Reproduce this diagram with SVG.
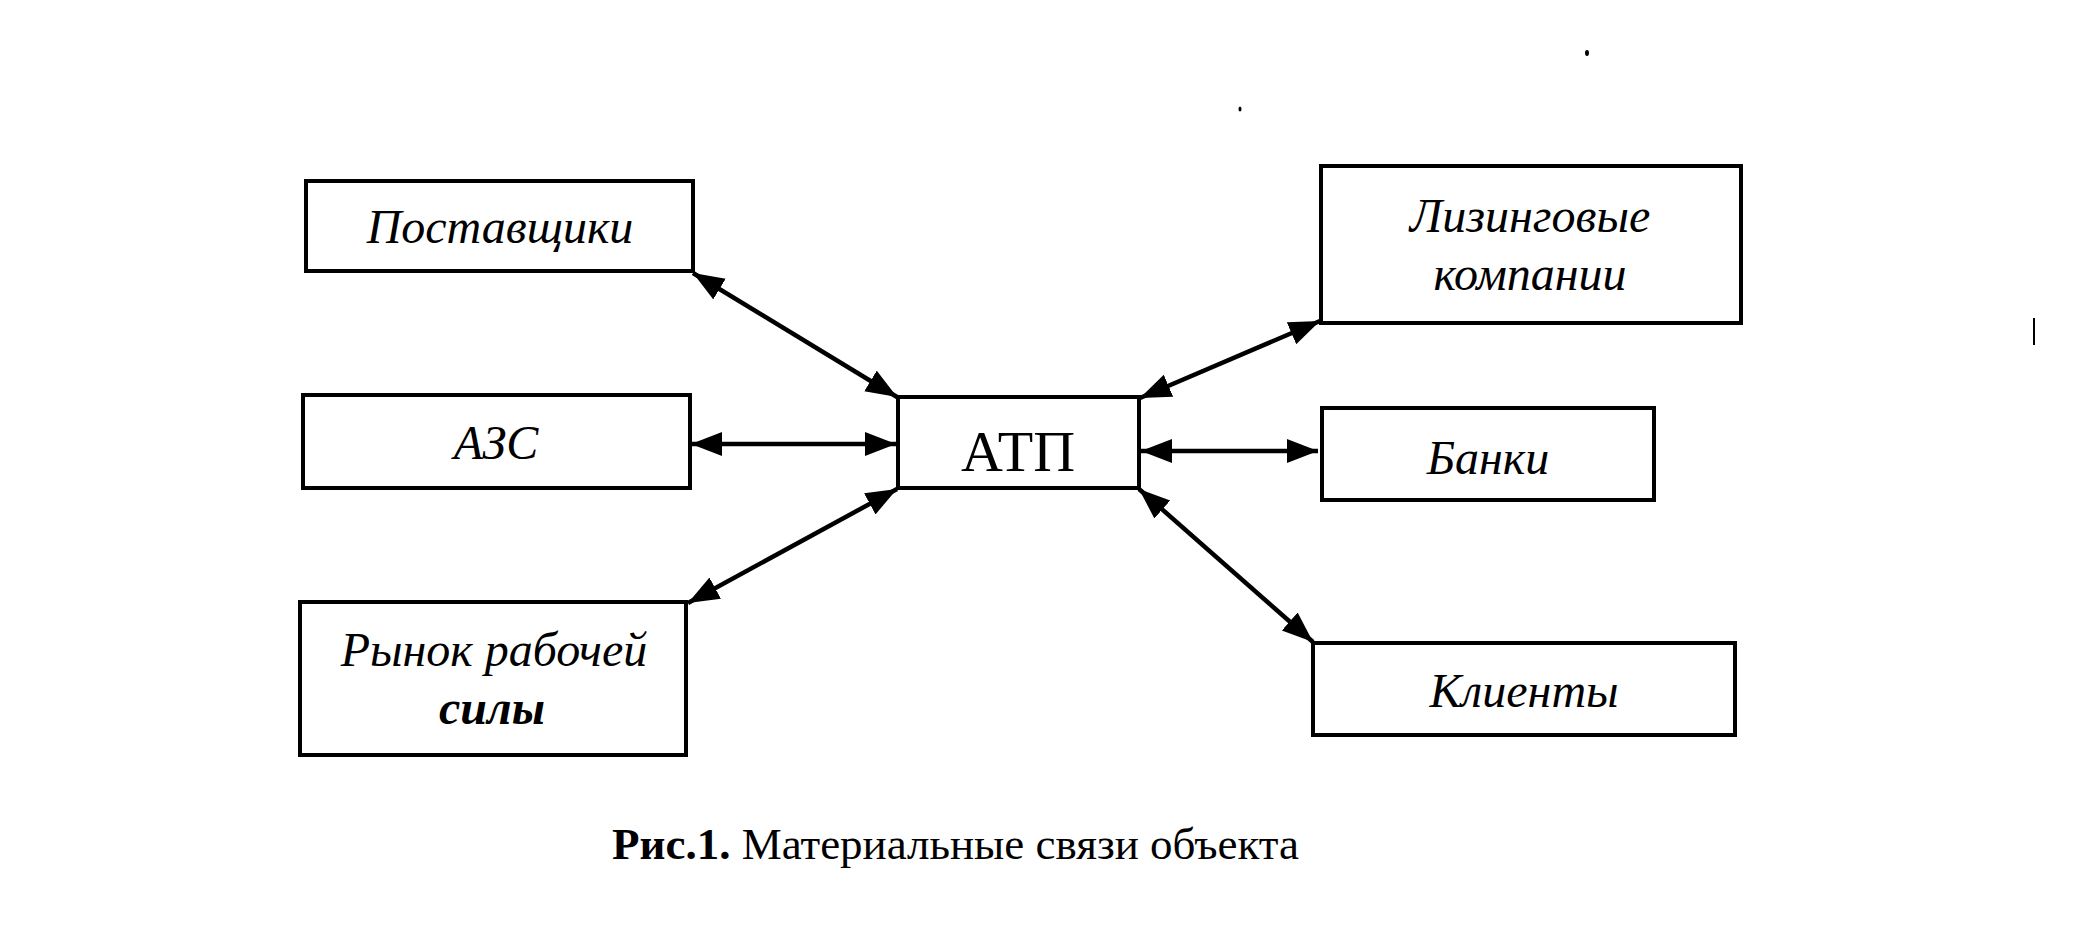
<svg xmlns="http://www.w3.org/2000/svg" width="2075" height="934" viewBox="0 0 2075 934">
<style>
.box{fill:#fff;stroke:#000;stroke-width:4}
.lbl{font-family:"Liberation Serif","Times New Roman",serif;font-style:italic;font-size:48px;fill:#000;text-anchor:middle}
.b{font-weight:bold}
.main{font-family:"Liberation Serif","Times New Roman",serif;font-size:58px;fill:#000;text-anchor:middle}
.cap{font-family:"Liberation Serif","Times New Roman",serif;font-size:45px;fill:#000}
.con{stroke:#000;stroke-width:4.5;fill:none;marker-start:url(#ah);marker-end:url(#ah)}
</style>
<defs>
<marker id="ah" markerUnits="userSpaceOnUse" markerWidth="34" markerHeight="26" refX="31" refY="12" orient="auto-start-reverse" viewBox="0 0 34 26">
<path d="M0,0 L31,12 L0,24 z" fill="#000"/>
</marker>
</defs>
<rect width="2075" height="934" fill="#fff"/>
<g id="connectors">
<line class="con" x1="693" y1="273" x2="897" y2="397"/>
<line class="con" x1="691" y1="444" x2="896" y2="444"/>
<line class="con" x1="688" y1="603" x2="897" y2="489"/>
<line class="con" x1="1140" y1="398" x2="1320" y2="321"/>
<line class="con" x1="1141" y1="451" x2="1318" y2="451"/>
<line class="con" x1="1139" y1="489" x2="1313" y2="642"/>
</g>
<g id="node-postavshchiki">
<rect class="box" x="306" y="181" width="387" height="90"/>
<text class="lbl" x="500" y="243">Поставщики</text>
</g>
<g id="node-azs">
<rect class="box" x="303" y="395" width="387" height="93"/>
<text class="lbl" x="496" y="459">АЗС</text>
</g>
<g id="node-rynok">
<rect class="box" x="300" y="602" width="386" height="153"/>
<text class="lbl" x="494" y="666">Рынок рабочей</text>
<text class="lbl b" x="492" y="724">силы</text>
</g>
<g id="node-atp">
<rect class="box" x="898" y="397" width="241" height="91"/>
<text class="main" x="1018" y="471">АТП</text>
</g>
<g id="node-lizing">
<rect class="box" x="1321" y="166" width="420" height="157"/>
<text class="lbl" x="1530" y="232">Лизинговые</text>
<text class="lbl" x="1530" y="290">компании</text>
</g>
<g id="node-banki">
<rect class="box" x="1322" y="408" width="332" height="92"/>
<text class="lbl" x="1488" y="474">Банки</text>
</g>
<g id="node-klienty">
<rect class="box" x="1313" y="643" width="422" height="92"/>
<text class="lbl" x="1524" y="707">Клиенты</text>
</g>
<g id="caption">
<text class="cap" x="612" y="859"><tspan font-weight="bold">Рис.1.</tspan> Материальные связи объекта</text>
</g>
<g id="specks" fill="#000">
<ellipse cx="1587" cy="53" rx="2" ry="3"/>
<ellipse cx="1240" cy="109" rx="1.5" ry="2.5"/>
<rect x="2033" y="318" width="2" height="27"/>
</g>
</svg>
